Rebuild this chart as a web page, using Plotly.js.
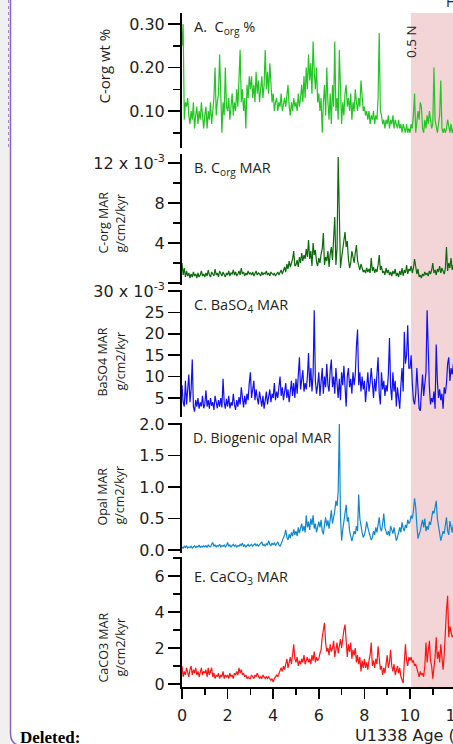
<!DOCTYPE html>
<html><head><meta charset="utf-8">
<script src="https://cdn.plot.ly/plotly-3.0.1.min.js"></script>
<style>html,body{margin:0;padding:0;overflow:hidden;background:#fff;width:453px;height:744px}#chart{width:520px;height:744px}</style>
</head><body><div id="chart"></div>
<script>
// Age (Ma)
const age = [
0.00,0.05,0.10,0.15,0.20,0.25,0.30,0.35,0.40,0.45,0.50,0.55,0.60,0.65,0.70,0.75,0.80,0.85,0.90,0.95,
1.00,1.05,1.10,1.15,1.20,1.25,1.30,1.35,1.40,1.45,1.50,1.55,1.60,1.65,1.70,1.75,1.80,1.85,1.90,1.95,
2.00,2.05,2.10,2.15,2.20,2.25,2.30,2.35,2.40,2.45,2.50,2.55,2.60,2.65,2.70,2.75,2.80,2.85,2.90,2.95,
3.00,3.05,3.10,3.15,3.20,3.25,3.30,3.35,3.40,3.45,3.50,3.55,3.60,3.65,3.70,3.75,3.80,3.85,3.90,3.95,
4.00,4.05,4.10,4.15,4.20,4.25,4.30,4.35,4.40,4.45,4.50,4.55,4.60,4.65,4.70,4.75,4.80,4.85,4.90,4.95,
5.00,5.05,5.10,5.15,5.20,5.25,5.30,5.35,5.40,5.45,5.50,5.55,5.60,5.65,5.70,5.75,5.80,5.85,5.90,5.95,
6.00,6.05,6.10,6.15,6.20,6.25,6.30,6.35,6.40,6.45,6.50,6.55,6.60,6.65,6.70,6.75,6.80,6.85,6.90,6.95,
7.00,7.05,7.10,7.15,7.20,7.25,7.30,7.35,7.40,7.45,7.50,7.55,7.60,7.65,7.70,7.75,7.80,7.85,7.90,7.95,
8.00,8.05,8.10,8.15,8.20,8.25,8.30,8.35,8.40,8.45,8.50,8.55,8.60,8.65,8.70,8.75,8.80,8.85,8.90,8.95,
9.00,9.05,9.10,9.15,9.20,9.25,9.30,9.35,9.40,9.45,9.50,9.55,9.60,9.65,9.70,9.75,9.80,9.85,9.90,9.95,
10.00,10.05,10.10,10.15,10.20,10.25,10.30,10.35,10.40,10.45,10.50,10.55,10.60,10.65,10.70,10.75,10.80,10.85,10.90,10.95,
11.00,11.05,11.10,11.15,11.20,11.25,11.30,11.35,11.40,11.45,11.50,11.55,11.60,11.65,11.70,11.75,11.80,11.85,11.90];

// A. C-org wt %
const corgPct = [
0.25,0.30,0.08,0.12,0.11,0.13,0.09,0.07,0.10,0.08,0.12,0.06,0.09,0.11,0.07,0.10,0.08,0.12,0.09,0.06,
0.09,0.11,0.06,0.10,0.08,0.12,0.07,0.10,0.13,0.20,0.09,0.12,0.14,0.23,0.10,0.05,0.12,0.09,0.20,0.11,
0.10,0.13,0.08,0.11,0.14,0.09,0.12,0.10,0.15,0.11,0.16,0.24,0.12,0.15,0.10,0.13,0.06,0.16,0.13,0.18,
0.15,0.18,0.13,0.16,0.12,0.19,0.14,0.17,0.12,0.15,0.18,0.13,0.16,0.24,0.15,0.19,0.14,0.21,0.16,0.12,
0.14,0.10,0.12,0.13,0.10,0.12,0.11,0.14,0.10,0.12,0.13,0.11,0.13,0.16,0.11,0.09,0.12,0.10,0.13,0.11,
0.12,0.10,0.14,0.11,0.13,0.16,0.12,0.18,0.13,0.20,0.15,0.23,0.17,0.21,0.14,0.26,0.19,0.15,0.20,0.12,
0.14,0.10,0.13,0.05,0.12,0.16,0.09,0.20,0.12,0.08,0.14,0.07,0.16,0.11,0.26,0.10,0.13,0.08,0.24,0.12,
0.07,0.12,0.09,0.14,0.16,0.11,0.13,0.10,0.14,0.08,0.12,0.10,0.15,0.12,0.10,0.13,0.11,0.17,0.12,0.10,
0.11,0.09,0.10,0.08,0.10,0.07,0.09,0.08,0.10,0.07,0.09,0.08,0.13,0.28,0.10,0.09,0.07,0.08,0.06,0.08,
0.07,0.09,0.06,0.08,0.07,0.09,0.06,0.08,0.07,0.06,0.08,0.06,0.07,0.05,0.07,0.06,0.05,0.07,0.05,0.06,
0.05,0.07,0.06,0.09,0.14,0.05,0.07,0.10,0.08,0.12,0.11,0.06,0.05,0.08,0.06,0.09,0.07,0.10,0.08,0.06,
0.07,0.20,0.08,0.06,0.05,0.07,0.09,0.17,0.06,0.05,0.06,0.05,0.06,0.08,0.06,0.05,0.07,0.05,0.06];

// B. C-org MAR (x 10^-3 g/cm2/kyr)
const corgMar = [
2.0,0.8,1.5,0.6,1.2,0.7,1.0,0.5,0.9,0.6,1.1,0.7,0.9,0.5,1.0,0.6,0.8,1.2,0.7,0.9,
0.6,1.0,0.7,1.3,0.8,0.6,1.1,0.9,0.7,1.4,0.8,1.0,0.6,1.2,0.9,0.7,1.1,0.8,0.6,1.0,
0.8,1.2,0.7,1.0,0.9,1.3,0.8,1.1,0.7,0.9,1.2,0.8,1.5,0.9,1.1,0.7,1.0,0.8,1.2,0.9,
1.0,0.8,1.1,0.7,1.0,1.2,0.8,1.0,0.9,0.7,1.1,0.8,1.0,0.9,1.2,0.8,1.0,0.7,1.1,0.9,
0.8,1.0,0.7,0.9,1.1,0.8,1.0,1.3,0.9,1.2,1.6,1.1,1.9,1.4,2.2,1.6,1.9,2.4,3.2,1.7,
1.8,2.3,1.6,2.6,2.0,3.0,2.2,2.8,2.4,3.4,2.6,4.3,2.4,3.2,1.7,4.0,2.8,3.3,2.1,1.7,
2.5,2.0,2.9,3.4,5.0,1.8,2.6,2.2,3.2,1.6,2.9,3.6,2.3,4.1,6.6,1.8,3.4,12.6,4.8,1.5,
2.5,3.4,4.6,5.1,3.6,4.2,2.4,1.5,2.0,3.2,2.6,2.0,3.0,3.8,2.2,1.7,1.3,1.9,1.5,1.1,
1.3,1.0,1.5,1.1,1.4,1.0,2.5,1.2,1.6,1.0,1.4,1.1,1.8,2.8,1.3,1.7,1.0,1.2,0.8,1.5,
1.0,1.3,0.8,1.1,0.7,1.2,0.9,1.4,0.7,1.0,0.6,1.2,0.8,1.5,0.7,1.3,1.0,1.8,0.9,1.4,
1.2,1.7,1.0,1.5,2.4,1.3,0.9,1.4,0.6,0.8,0.5,0.9,0.7,1.1,0.8,1.0,0.7,1.2,0.9,1.3,
2.0,1.0,1.3,0.8,1.4,1.1,1.7,1.0,1.5,1.2,0.9,1.4,3.6,1.2,2.0,1.5,2.5,1.3,1.8];

// C. BaSO4 MAR (x 10^-3 g/cm2/kyr)
const baso4Mar = [
8.0,4.0,3.0,9.0,3.5,6.5,10.5,4.0,7.0,14.0,3.0,1.8,4.5,3.0,5.0,2.5,4.0,3.0,5.5,2.6,
3.5,6.8,3.0,4.5,2.5,5.0,3.2,4.0,2.2,5.5,3.5,2.6,4.5,3.0,5.0,2.8,9.5,4.0,2.5,4.8,
3.0,5.5,2.6,4.0,3.2,6.0,3.5,2.2,4.5,3.0,5.2,3.5,7.5,4.0,2.8,5.5,3.5,6.0,4.5,8.5,
11.0,5.0,6.5,9.0,4.5,7.0,5.0,3.5,6.5,4.0,3.0,5.5,2.5,4.5,6.5,3.5,5.5,7.0,4.0,6.0,
5.0,8.5,4.5,6.5,5.0,7.0,10.0,5.5,7.5,4.5,6.0,8.5,5.0,7.0,4.0,6.5,9.0,5.5,8.5,5.0,
9.5,6.0,10.5,14.5,7.0,9.0,11.5,6.5,8.5,7.0,10.0,15.5,7.5,12.0,6.5,10.5,25.5,9.0,6.0,8.0,
11.0,5.5,9.0,12.0,6.0,10.0,7.5,13.0,8.0,6.5,11.5,14.0,7.5,10.0,6.0,12.0,8.5,5.0,9.5,4.5,
11.0,8.0,12.5,6.0,3.0,10.0,12.0,7.5,9.5,6.0,11.0,8.0,10.5,17.0,21.0,8.0,11.0,6.5,10.0,7.0,
9.0,4.0,7.5,11.0,6.5,8.5,12.0,7.0,5.0,9.5,6.5,10.5,14.5,6.0,3.5,11.0,7.0,9.0,5.5,8.0,
6.5,10.5,19.0,7.5,4.5,11.0,6.5,9.0,3.0,7.5,5.5,2.5,8.0,12.0,6.5,20.5,13.0,15.0,22.0,12.0,
12.0,15.0,8.5,4.5,3.5,6.0,12.0,6.5,2.5,2.0,6.5,10.5,5.5,8.0,11.0,25.5,14.0,7.5,3.5,5.0,
4.0,6.5,2.5,17.5,9.0,5.0,7.0,4.5,6.0,2.5,7.5,6.0,8.5,13.0,14.5,9.0,12.0,10.5,13.0];

// D. Biogenic opal MAR (g/cm2/kyr)
const opalMar = [
0.05,0.03,0.06,0.04,0.07,0.03,0.05,0.04,0.06,0.03,0.05,0.07,0.04,0.06,0.05,0.08,0.04,0.06,0.05,0.07,
0.05,0.07,0.04,0.08,0.06,0.05,0.09,0.12,0.06,0.08,0.05,0.07,0.06,0.09,0.05,0.07,0.06,0.08,0.05,0.07,
0.12,0.06,0.08,0.05,0.07,0.09,0.06,0.08,0.05,0.07,0.06,0.09,0.07,0.11,0.06,0.08,0.05,0.07,0.09,0.06,
0.07,0.09,0.06,0.08,0.10,0.07,0.09,0.06,0.08,0.10,0.13,0.07,0.09,0.06,0.10,0.08,0.15,0.09,0.07,0.11,
0.08,0.12,0.07,0.10,0.13,0.08,0.06,0.10,0.14,0.18,0.24,0.32,0.20,0.16,0.25,0.19,0.28,0.22,0.33,0.24,
0.30,0.22,0.36,0.27,0.33,0.42,0.30,0.38,0.28,0.55,0.36,0.45,0.32,0.50,0.40,0.55,0.34,0.42,0.28,0.38,
0.45,0.36,0.48,0.30,0.25,0.40,0.52,0.38,0.47,0.34,0.55,0.63,0.42,0.50,0.62,0.78,0.70,0.93,2.00,0.55,
0.15,0.32,0.45,0.55,0.72,0.45,0.52,0.30,0.24,0.14,0.22,0.30,0.25,0.38,0.30,0.88,0.50,0.35,0.28,0.20,
0.24,0.32,0.45,0.36,0.27,0.22,0.16,0.20,0.30,0.24,0.36,0.28,0.40,0.52,0.34,0.30,0.42,0.58,0.35,0.28,
0.24,0.30,0.22,0.38,0.32,0.26,0.36,0.22,0.15,0.20,0.30,0.36,0.28,0.44,0.35,0.30,0.40,0.35,0.48,0.42,
0.45,0.55,0.50,0.62,0.82,0.68,0.40,0.18,0.25,0.30,0.40,0.48,0.36,0.50,0.30,0.38,0.32,0.45,0.40,0.55,
0.62,0.58,0.70,0.78,0.50,0.40,0.28,0.15,0.22,0.30,0.26,0.42,0.52,0.30,0.24,0.46,0.35,0.28,0.40];

// E. CaCO3 MAR (g/cm2/kyr)
const caco3Mar = [
1.0,0.4,0.7,0.5,0.9,0.6,0.4,0.8,1.0,0.5,0.8,0.6,0.9,0.5,0.7,0.4,0.6,0.9,0.5,0.7,
0.6,0.8,0.4,0.9,0.5,0.7,0.9,0.4,0.6,0.3,0.5,0.4,0.6,0.3,0.5,0.4,0.7,0.3,0.5,0.4,
0.5,0.3,0.6,0.4,0.5,0.3,0.6,0.5,0.7,0.5,0.9,0.6,0.8,0.5,0.6,0.4,0.5,0.3,0.4,0.3,
0.3,0.5,0.4,0.3,0.5,0.4,0.6,0.4,0.3,0.4,0.3,0.5,0.4,0.3,0.4,0.3,0.4,0.3,0.2,0.3,
0.1,0.3,0.4,0.5,0.4,0.6,0.7,0.9,0.7,1.0,0.8,1.2,1.4,0.9,1.2,1.5,1.1,1.7,2.2,1.4,
1.2,1.5,1.0,1.3,1.1,1.4,1.2,1.6,1.1,1.3,1.5,1.2,1.4,1.1,1.6,1.3,1.8,1.2,1.5,1.3,
1.4,1.7,1.9,2.6,2.9,3.4,2.3,1.8,2.0,1.6,2.2,1.8,2.0,2.4,1.5,1.9,2.3,1.7,2.1,2.5,
2.0,2.6,3.0,3.3,2.4,1.5,2.2,1.8,2.3,1.4,1.9,1.6,2.0,1.2,1.6,1.1,1.5,0.7,1.3,0.9,
1.4,0.9,1.2,0.8,1.3,1.6,2.3,1.0,1.3,0.9,1.4,1.1,2.1,1.2,0.8,1.0,0.5,0.9,0.6,1.1,
1.6,0.9,1.2,1.9,1.0,0.7,1.1,0.5,0.8,1.0,0.6,0.9,0.4,0.2,0.05,1.2,2.2,1.3,1.0,1.5,
1.3,1.5,1.2,1.3,1.0,1.1,0.8,0.6,0.4,0.7,0.5,0.6,0.4,1.0,2.3,1.2,1.8,2.4,1.3,1.0,
0.3,0.9,1.5,2.6,1.4,1.8,1.2,2.2,1.5,0.8,1.6,3.2,4.1,4.9,2.6,3.2,2.8,2.6,2.7];

// tick labels
const tickA = {vals:[0.10,0.20,0.30], text:['0.10','0.20','0.30']};
const tickB = {vals:[0,4,8,12], text:['','4','8','12 x 10<sup>-3</sup>']};
const tickC = {vals:[5,10,15,20,25,30], text:['5','10','15','20','25','30 x 10<sup>-3</sup>']};
const tickD = {vals:[0,0.5,1.0,1.5,2.0], text:['0.0','0.5','1.0','1.5','2.0']};
const tickE = {vals:[0,2,4,6], text:['0','2','4','6']};
const tickX = {vals:[0,2,4,6,8,10,12,14], text:['0','2','4','6','8','10','12','14']};
const shadeStart = 10.04;

const W = 520, H = 744, L = 182, T = 13, B = 57, R = 0;
const PX = v => (v - L) / (W - L - R);
const PY = v => (H - B - v) / (H - T - B);
const pxPerMa = 22.8;
const INK = '#231f20';
const TF = {family:'DejaVu Sans', size:16, color:INK};

function yax(top, bot, range, tk, minorVals){
  const a = {domain:[PY(bot), PY(top)], range:range, anchor:'x', showline:true, linecolor:'#000', linewidth:2,
    ticks:'outside', ticklen:12, tickwidth:1.5, tickcolor:'#000', showgrid:false, zeroline:false,
    tickmode:'array', tickvals:tk.vals, ticktext:tk.text, tickfont:TF, fixedrange:true};
  if (minorVals) a.minor = {tickmode:'array', tickvals:minorVals, ticks:'outside', ticklen:7, tickwidth:1.5, tickcolor:'#000', showgrid:false};
  return a;
}

const traces = [
  {x:age, y:corgPct, yaxis:'y', line:{color:'#22c522', width:1.2}},
  {x:age, y:corgMar, yaxis:'y2', line:{color:'#0b6a0b', width:1.2}},
  {x:age, y:baso4Mar, yaxis:'y3', line:{color:'#1010f0', width:1.2}},
  {x:age, y:opalMar, yaxis:'y4', line:{color:'#0e88cf', width:1.2}},
  {x:age, y:caco3Mar, yaxis:'y5', line:{color:'#ff1414', width:1.2}}
].map(t => Object.assign({type:'scatter', mode:'lines', xaxis:'x', hoverinfo:'skip', showlegend:false}, t));

function ann(text, xp, yp, o){
  return Object.assign({text:text, xref:'paper', yref:'paper', x:PX(xp), y:PY(yp), showarrow:false,
    xanchor:'left', yanchor:'middle', font:{family:'Open Sans', size:14, color:INK}}, o||{});
}
function rot(text, xp, yp, size){
  return ann(text, xp, yp, {textangle:-90, xanchor:'center', yanchor:'middle', font:{family:'Open Sans', size:size, color:INK}});
}

const annotations = [
  ann('A.&nbsp;&nbsp;C<sub>org</sub> %', 192, 27, {font:{family:'Open Sans', size:14.5, color:INK}}),
  ann('B. C<sub>org</sub> MAR', 192, 168, {font:{family:'Open Sans', size:14.5, color:INK}}),
  ann('C. BaSO<sub>4</sub> MAR', 192, 305, {font:{family:'Open Sans', size:14.5, color:INK}}),
  ann('D. Biogenic opal MAR', 191, 437),
  ann('E. CaCO<sub>3</sub> MAR', 192, 577, {font:{family:'Open Sans', size:14.5, color:INK}}),
  rot('C-org wt %', 103.5, 66, 15),
  rot('C-org MAR', 102.5, 223, 12.5), rot('g/cm2/kyr', 119.5, 223, 12.5),
  rot('BaSO4 MAR', 102.5, 362, 12.5), rot('g/cm2/kyr', 119.5, 361, 12.5),
  rot('Opal MAR', 102.5, 497, 12.5), rot('g/cm2/kyr', 119.5, 495, 12.5),
  rot('CaCO3 MAR', 102.5, 648, 12.5), rot('g/cm2/kyr', 119.5, 647, 12.5),
  rot('0.5 N', 411, 42, 13.5),
  ann('H', 444, 1, {font:{family:'Open Sans', size:14, color:INK}}),
  ann('U1338 Age (Ma)', 353, 736, {font:{family:'DejaVu Sans', size:16, color:INK}}),
  ann('<b>Deleted:</b>', 18, 737, {font:{family:'Liberation Serif', size:17, color:'#000'}})
];

const shapes = [
  {type:'rect', xref:'x', yref:'paper', x0:shadeStart, x1:20, y0:0, y1:1, fillcolor:'#f3d5d7', line:{width:0}, layer:'below'},
  {type:'rect', xref:'paper', yref:'paper', x0:PX(0), x1:PX(10.5), y0:PY(750), y1:PY(-5), fillcolor:'#f0f0f0', line:{width:0}, layer:'below'},
  {type:'path', xref:'paper', yref:'paper', layer:'above',
   path:'M '+PX(10.5)+' '+PY(-5)+' L '+PX(10.5)+' '+PY(733)+' Q '+PX(10.5)+' '+PY(744)+' '+PX(19)+' '+PY(745),
   line:{color:'#8a63c6', width:1.5}},
  {type:'line', xref:'paper', yref:'paper', x0:PX(8.5), x1:PX(8.5), y0:PY(0), y1:PY(150), line:{color:'#9b86d0', width:1, dash:'dot'}}
];

const layout = {
  width:W, height:H, margin:{l:L, r:R, t:T, b:B, pad:0},
  paper_bgcolor:'#ffffff', plot_bgcolor:'rgba(0,0,0,0)', showlegend:false,
  font:{family:'Open Sans', color:INK},
  xaxis:{domain:[0,1], range:[0,(W-L-R)/pxPerMa], anchor:'y5', showline:true, linecolor:'#000', linewidth:2,
    ticks:'outside', ticklen:10, tickwidth:1.5, tickcolor:'#000', showgrid:false, zeroline:false,
    tickmode:'array', tickvals:tickX.vals, ticktext:tickX.text, tickfont:TF, fixedrange:true, ticklabelstandoff:3,
    minor:{tickmode:'array', tickvals:[1,3,5,7,9,11,13], ticks:'outside', ticklen:6, tickwidth:1.5, tickcolor:'#000', showgrid:false}},
  yaxis: yax(13, 148, [0.0150, 0.3253], tickA, [0.05,0.15,0.25]),
  yaxis2: yax(154, 285, [-0.2, 12.9], tickB, [2,6,10]),
  yaxis3: yax(290, 417, [0.56, 30.23], tickC, null),
  yaxis4: yax(423, 553, [-0.047, 2.016], tickD, null),
  yaxis5: yax(557, 687, [-0.167, 7.056], tickE, [1,3,5,7]),
  annotations:annotations, shapes:shapes
};

Plotly.newPlot('chart', traces, layout, {displayModeBar:false, staticPlot:true});
</script></body></html>
